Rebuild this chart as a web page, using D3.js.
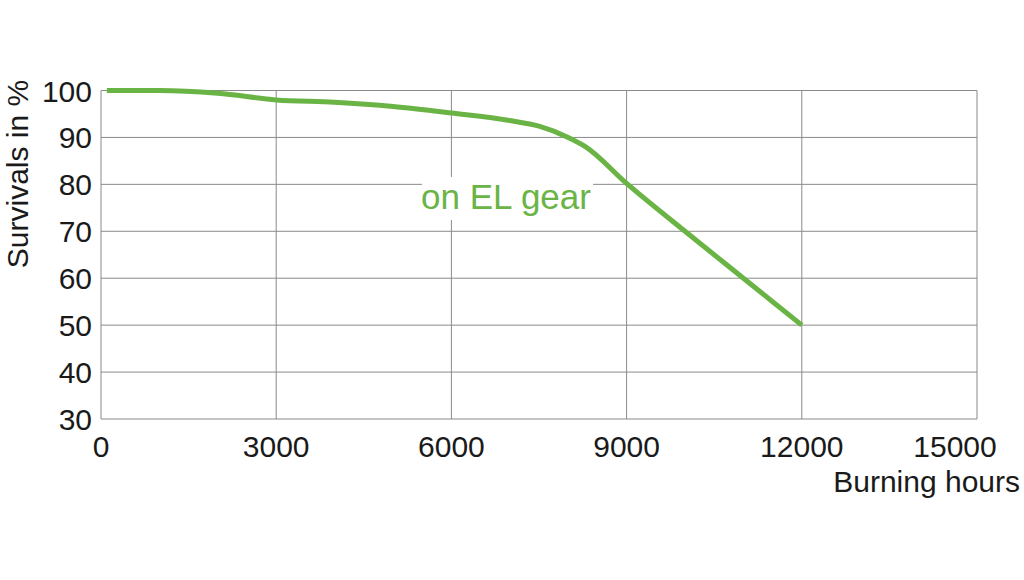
<!DOCTYPE html>
<html><head><meta charset="utf-8">
<script src="https://cdn.jsdelivr.net/npm/d3@7"></script>
<style>body{margin:0;background:#fff;}text{font-family:"Liberation Sans",Arial,sans-serif;}</style>
</head><body><svg id="c" width="1024" height="580"></svg>
<script>
const hours = [100, 1000, 2000, 3000, 4000, 5000, 6000, 7000, 7500, 8000, 8300, 9000, 10000, 11000, 12000];
const survivals = [100, 100, 99.4, 98, 97.5, 96.6, 95.2, 93.6, 92.4, 90, 88, 80.2, 70, 60, 50];
const xTicks = [0, 3000, 6000, 9000, 12000, 15000];
const yTicks = [30, 40, 50, 60, 70, 80, 90, 100];
const seriesLabel = "on EL gear";

const svg = d3.select("#c");
const x = d3.scaleLinear().domain([0, 15000]).range([101, 977]);
const y = d3.scaleLinear().domain([30, 100]).range([419, 90.5]);
const grid = "#8a8a8a";
const green = "#6ab445";

const g = svg.append("g");
g.selectAll(".hg").data(yTicks).enter().append("line")
  .attr("x1", x(0)).attr("x2", x(15000)).attr("y1", d => y(d)).attr("y2", d => y(d))
  .attr("stroke", grid).attr("stroke-width", 1);
g.selectAll(".vg").data(xTicks).enter().append("line")
  .attr("x1", d => x(d)).attr("x2", d => x(d)).attr("y1", y(30)).attr("y2", y(100))
  .attr("stroke", grid).attr("stroke-width", 1);

// y tick labels
svg.selectAll(".yl").data(yTicks).enter().append("text")
  .attr("x", 92).attr("y", d => y(d) + 11).attr("text-anchor", "end")
  .attr("font-size", 30).attr("fill", "#1a1a1a").text(d => d);
// x tick labels
svg.selectAll(".xl").data(xTicks).enter().append("text")
  .attr("x", d => d === 15000 ? x(d) - 22 : x(d)).attr("y", 457).attr("text-anchor", "middle")
  .attr("font-size", 30).attr("fill", "#1a1a1a").text(d => d);

svg.append("text").attr("x", 1020).attr("y", 492).attr("text-anchor", "end")
  .attr("font-size", 30).attr("fill", "#1a1a1a").text("Burning hours");
svg.append("text").attr("transform", "translate(28,174) rotate(-90)").attr("text-anchor", "middle")
  .attr("font-size", 30).attr("fill", "#1a1a1a").text("Survivals in %");

// label box
svg.append("rect").attr("x", 422).attr("y", 177).attr("width", 171).attr("height", 43).attr("fill", "#fff");
svg.append("text").attr("x", 506).attr("y", 209).attr("text-anchor", "middle")
  .attr("font-size", 35).attr("fill", green).text(seriesLabel);

const line = d3.line().x((d, i) => x(hours[i])).y(d => y(d)).curve(d3.curveMonotoneX);
svg.append("path").datum(survivals).attr("d", line).attr("fill", "none")
  .attr("stroke", green).attr("stroke-width", 5).attr("stroke-linejoin", "round");
</script></body></html>
